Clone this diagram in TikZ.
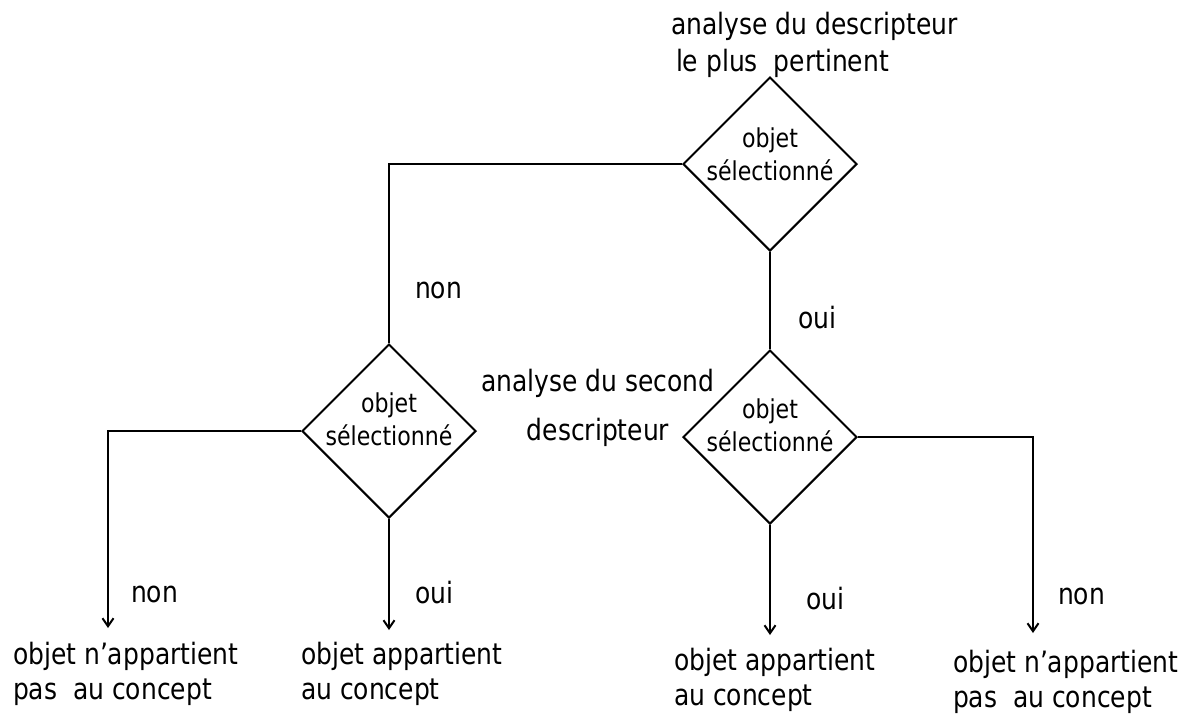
\documentclass[tikz,border=0pt]{standalone}
\usepackage{fontspec}
\setmainfont{DejaVu Sans}[FakeStretch=0.85]
\usetikzlibrary{arrows.meta,positioning,shapes.geometric}

\begin{document}
\begin{tikzpicture}[
  x=0.5pt,y=-0.5pt,line width=1pt,
  every node/.style={font=\fontsize{14.7}{17.5}\selectfont},
  decision/.style={draw,diamond,minimum width=87pt,minimum height=87pt,inner sep=0pt},
  dtext/.style={font=\fontsize{13}{16.5}\selectfont,align=center,inner sep=0pt},
  txt/.style={align=left,inner sep=0pt,anchor=north west},
  lbl/.style={inner sep=0pt},
  arrow/.style={-{Straight Barb[length=4pt,width=5.5pt]}}
]
\useasboundingbox (0,0) rectangle (1185,714);
\node[decision] (d1) at (770,164) {};
\node[decision] (d2) at (389,431) {};
\node[decision] (d3) at (770,437) {};
\node[dtext] (t1) at ([yshift=5pt]d1.center) {objet\\sélectionné};
\node[dtext] (t2) at ([yshift=6pt]d2.center) {objet\\sélectionné};
\node[dtext] (t3) at ([yshift=6pt]d3.center) {objet\\sélectionné};
\node[txt] (ana1) at (670,11) {analyse du descripteur\\[1pt]\hspace*{2.5pt}le plus\ \ pertinent};
\node[align=center,inner sep=0pt] (ana2) at (598,408) {analyse du second\\[7pt]descripteur};
\coordinate (endA) at (108,628);
\coordinate (endB) at (389,630);
\coordinate (endC) at (770,635);
\coordinate (endD) at (1033,633);
\node[txt] (resA) at (12,641) {objet n'appartient\\pas\ \ au concept};
\node[txt] (resB) at (300,641) {objet appartient\\au concept};
\node[txt] (resC) at (673,647) {objet appartient\\au concept};
\node[txt] (resD) at (952,649) {objet n'appartient\\pas\ \ au concept};
\draw (d1.west) -| node[lbl,pos=0.853,right=12.5pt] {non} (d2.north);
\draw (d1.south) -- node[lbl,pos=0.68,right=13.5pt] {oui} (d3.north);
\draw[arrow] (d2.west) -| node[lbl,pos=0.915,right=11pt] {non} (endA);
\draw[arrow] (d2.south) -- node[lbl,pos=0.66,right=12.5pt] {oui} (endB);
\draw[arrow] (d3.south) -- node[lbl,pos=0.67,right=17.5pt] {oui} (endC);
\draw[arrow] (d3.east) -| node[lbl,pos=0.908,right=12pt] {non} (endD);
\end{tikzpicture}
\end{document}
